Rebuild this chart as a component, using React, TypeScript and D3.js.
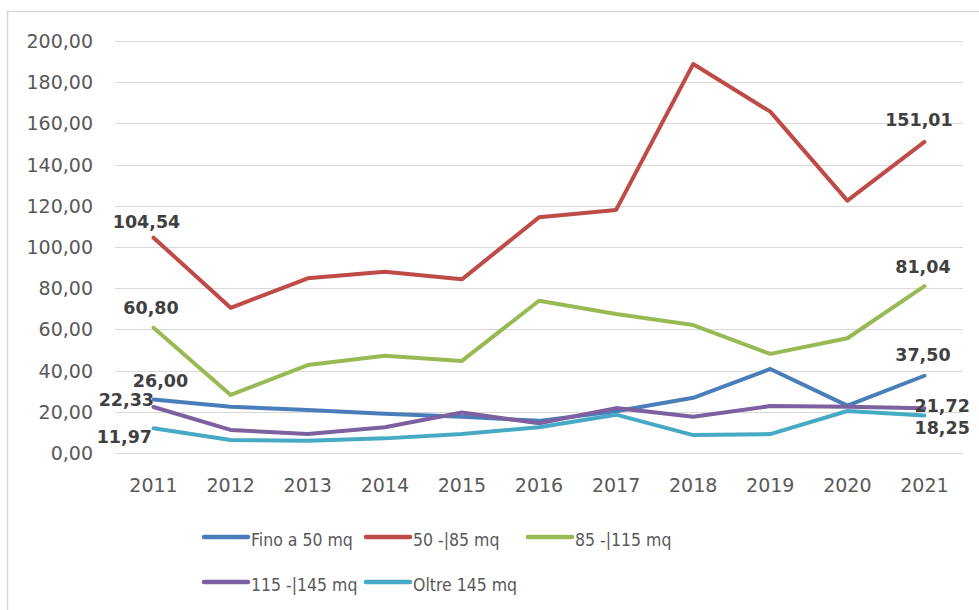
import React from "react";
import * as d3 from "d3";

const years = ["2011","2012","2013","2014","2015","2016","2017","2018","2019","2020","2021"];
const seriesNames = ["Fino a 50 mq", "50 -|85 mq", "85 -|115 mq", "115 -|145 mq", "Oltre 145 mq"];
const seriesColors = ["#4A7EBB", "#BE4B48", "#98B954", "#7D60A0", "#46AAC5"];
const fino50 = [26.0, 22.5, 20.9, 19.1, 17.6, 15.6, 20.3, 26.8, 40.8, 23.0, 37.5];
const da50a85 = [104.54, 70.5, 84.8, 88.0, 84.3, 114.4, 118.0, 188.8, 165.7, 122.5, 151.01];
const da85a115 = [60.8, 28.2, 42.7, 47.2, 44.7, 73.9, 67.5, 62.1, 48.1, 55.7, 81.04];
const da115a145 = [22.33, 11.2, 9.2, 12.5, 19.7, 14.4, 21.8, 17.6, 22.8, 22.5, 21.72];
const oltre145 = [11.97, 6.3, 6.0, 7.1, 9.2, 12.5, 18.6, 8.7, 9.2, 20.4, 18.25];
const yTicks = [0, 20, 40, 60, 80, 100, 120, 140, 160, 180, 200];

const allSeries = [fino50, da50a85, da85a115, da115a145, oltre145];

// data labels: series index, year index, text-anchor, offsets from the point
const labels: { s: number; i: number; anchor: string; dx: number; dy: number }[] = [
  { s: 1, i: 0, anchor: "middle", dx: -7, dy: -10 },
  { s: 2, i: 0, anchor: "middle", dx: -2.5, dy: -14 },
  { s: 0, i: 0, anchor: "middle", dx: 7, dy: -12.5 },
  { s: 3, i: 0, anchor: "end", dx: 0.5, dy: -1.3 },
  { s: 4, i: 0, anchor: "end", dx: -1.5, dy: 14.7 },
  { s: 1, i: 10, anchor: "middle", dx: -5.5, dy: -16 },
  { s: 2, i: 10, anchor: "middle", dx: -1.5, dy: -13 },
  { s: 0, i: 10, anchor: "middle", dx: -1.5, dy: -14.8 },
  { s: 3, i: 10, anchor: "start", dx: -10, dy: 3.7 },
  { s: 4, i: 10, anchor: "start", dx: -10, dy: 18.6 },
];

const fmt = (v: number) => v.toFixed(2).replace(".", ",");

export default function App() {
  const W = 979, H = 610;
  const x = d3.scalePoint<string>().domain(years).range([115, 963]).padding(0.5);
  const y = d3.scaleLinear().domain([0, 200]).range([453, 41]);
  const line = d3
    .line<number>()
    .x((_, i) => x(years[i]) as number)
    .y((d) => y(d));

  const legendItems = [
    { s: 0, x: 204, y: 537 },
    { s: 1, x: 366, y: 537 },
    { s: 2, x: 528, y: 537 },
    { s: 3, x: 204, y: 582 },
    { s: 4, x: 366, y: 582 },
  ];

  return (
    <svg width={W} height={H} style={{ position: "absolute", left: 0, top: 0, background: "#fff" }}>
      <rect x={7.5} y={11.5} width={990} height={620} fill="#fff" stroke="#D9D9D9" strokeWidth={1.5} />
      {yTicks.map((t) => (
        <g key={t}>
          <line x1={115} x2={963} y1={Math.round(y(t)) + 0.5} y2={Math.round(y(t)) + 0.5} stroke="#D9D9D9" strokeWidth={1} />
          <text x={93} y={y(t) + 7} textAnchor="end" fontFamily="DejaVu Sans" fontSize={19} fill="#595959">
            {fmt(t)}
          </text>
        </g>
      ))}
      {years.map((yr) => (
        <text key={yr} x={x(yr)} y={492} textAnchor="middle" fontFamily="DejaVu Sans" fontSize={19} fill="#595959">
          {yr}
        </text>
      ))}
      {allSeries.map((s, k) => (
        <path key={k} d={line(s) || ""} fill="none" stroke={seriesColors[k]} strokeWidth={4} strokeLinejoin="round" strokeLinecap="round" />
      ))}
      {labels.map((l, k) => (
        <text
          key={k}
          x={(x(years[l.i]) as number) + l.dx}
          y={y(allSeries[l.s][l.i]) + l.dy}
          textAnchor={l.anchor as any}
          fontFamily="DejaVu Sans"
          fontWeight="bold"
          fontSize={17.5}
          fill="#404040"
        >
          {fmt(allSeries[l.s][l.i])}
        </text>
      ))}
      {legendItems.map((it) => (
        <g key={it.s}>
          <line x1={it.x} x2={it.x + 44} y1={it.y} y2={it.y} stroke={seriesColors[it.s]} strokeWidth={4.5} strokeLinecap="round" />
          <text x={it.x + 47} y={it.y + 9} fontFamily="DejaVu Sans Condensed, DejaVu Sans" fontSize={17.5} fill="#595959">
            {seriesNames[it.s]}
          </text>
        </g>
      ))}
    </svg>
  );
}
